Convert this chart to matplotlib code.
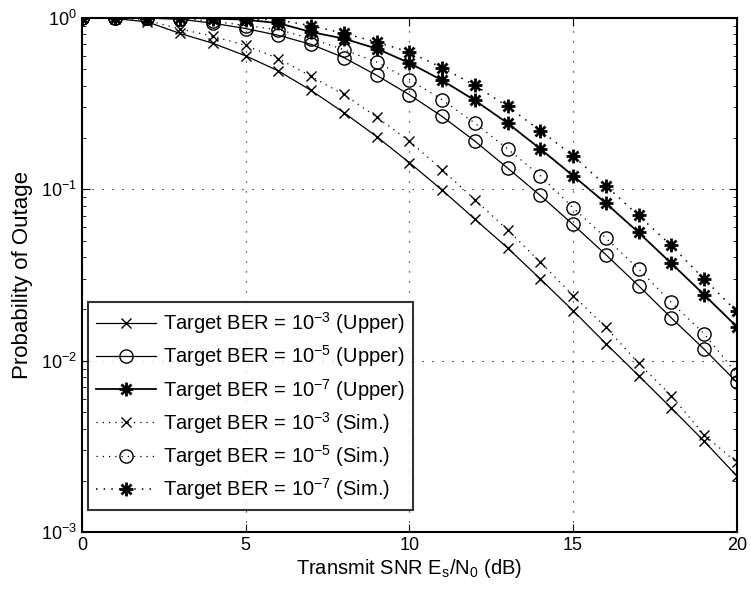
import numpy as np
import matplotlib.pyplot as plt
from matplotlib.path import Path

plt.rcParams['font.family'] = ['Liberation Sans', 'DejaVu Sans']
plt.rcParams['mathtext.fontset'] = 'custom'
plt.rcParams['mathtext.rm'] = 'Liberation Sans'
plt.rcParams['mathtext.it'] = 'Liberation Sans'

snr = np.arange(0, 21)

# upper bound curves
upper_1e3 = [1.0, 0.99, 0.946, 0.81, 0.71, 0.60, 0.49, 0.377, 0.28, 0.203, 0.143,
             0.099, 0.067, 0.0455, 0.030, 0.0196, 0.0126, 0.0082, 0.0053, 0.0034, 0.00213]
upper_1e5 = [1.0, 1.0, 0.995, 0.98, 0.93, 0.865, 0.79, 0.70, 0.586, 0.462, 0.356,
             0.266, 0.191, 0.133, 0.092, 0.0623, 0.0416, 0.0274, 0.0178, 0.0117, 0.0075]
upper_1e7 = [1.0, 1.0, 1.0, 1.0, 0.99, 0.975, 0.93, 0.826, 0.756, 0.661, 0.545,
             0.432, 0.33, 0.243, 0.172, 0.12, 0.083, 0.056, 0.037, 0.0243, 0.0158]

# simulated curves
sim_1e3 = [1.0, 0.995, 0.965, 0.86, 0.78, 0.69, 0.578, 0.455, 0.357, 0.264, 0.191,
           0.130, 0.087, 0.058, 0.0376, 0.024, 0.0157, 0.00966, 0.00626, 0.0037, 0.00255]
sim_1e5 = [1.0, 1.0, 1.0, 0.99, 0.957, 0.90, 0.853, 0.756, 0.652, 0.552, 0.436,
           0.333, 0.243, 0.172, 0.12, 0.078, 0.052, 0.0343, 0.0219, 0.0144, 0.0084]
sim_1e7 = [1.0, 1.0, 1.0, 1.0, 1.0, 0.99, 0.97, 0.90, 0.81, 0.723, 0.63,
           0.512, 0.404, 0.304, 0.22, 0.157, 0.105, 0.0703, 0.047, 0.030, 0.0194]

# matlab-style asterisk: a plus and a cross on top of each other
d = 0.72
ast_verts = [(-1, 0), (1, 0), (0, -1), (0, 1), (-d, -d), (d, d), (-d, d), (d, -d)]
ast_codes = [Path.MOVETO, Path.LINETO] * 4
asterisk = Path(ast_verts, ast_codes)

dotted = (0, (1, 4))

fig = plt.figure(figsize=(7.51, 5.92), dpi=100)
ax = fig.add_axes([0.109, 0.101, 0.872, 0.869])

ax.semilogy(snr, upper_1e3, 'k-', marker='x', lw=0.9, ms=7, mew=1.0,
            label='Target BER = $10^{-3}$ (Upper)')
ax.semilogy(snr, upper_1e5, 'k-', marker='o', lw=0.9, ms=9.5, mew=1.0, mfc='none',
            label='Target BER = $10^{-5}$ (Upper)')
ax.semilogy(snr, upper_1e7, 'k-', marker=asterisk, lw=1.3, ms=10, mew=2.0, mfc='none',
            label='Target BER = $10^{-7}$ (Upper)')
ax.semilogy(snr, sim_1e3, 'k', ls=dotted, marker='x', lw=0.9, ms=7, mew=1.0,
            label='Target BER = $10^{-3}$ (Sim.)')
ax.semilogy(snr, sim_1e5, 'k', ls=dotted, marker='o', lw=0.9, ms=9.5, mew=1.0, mfc='none',
            label='Target BER = $10^{-5}$ (Sim.)')
ax.semilogy(snr, sim_1e7, 'k', ls=dotted, marker=asterisk, lw=1.1, ms=10, mew=2.0, mfc='none',
            label='Target BER = $10^{-7}$ (Sim.)')

ax.set_xlim(0, 20)
ax.set_ylim(1e-3, 1)
ax.set_xticks([0, 5, 10, 15, 20])
ax.grid(True, which='major', linestyle=(0, (1, 8)), color='k', lw=0.8)
ax.tick_params(which='both', direction='in', top=True, right=True, labelsize=13)
ax.tick_params(which='major', length=6)
ax.tick_params(which='minor', length=3)
for s in ax.spines.values():
    s.set_linewidth(1.5)

ax.set_xlabel('Transmit SNR E$_s$/N$_0$ (dB)', fontsize=14.5, labelpad=2)
ax.set_ylabel('Probability of Outage', fontsize=16, labelpad=6)

leg = ax.legend(loc='lower left', fontsize=14.5, frameon=True, fancybox=False,
                edgecolor='k', handlelength=3, handletextpad=0.35, borderpad=0.4,
                labelspacing=0.36, borderaxespad=0, bbox_to_anchor=(0.009, 0.043))
leg.get_frame().set_linewidth(1.5)

fig.savefig('out.png', dpi=100)
